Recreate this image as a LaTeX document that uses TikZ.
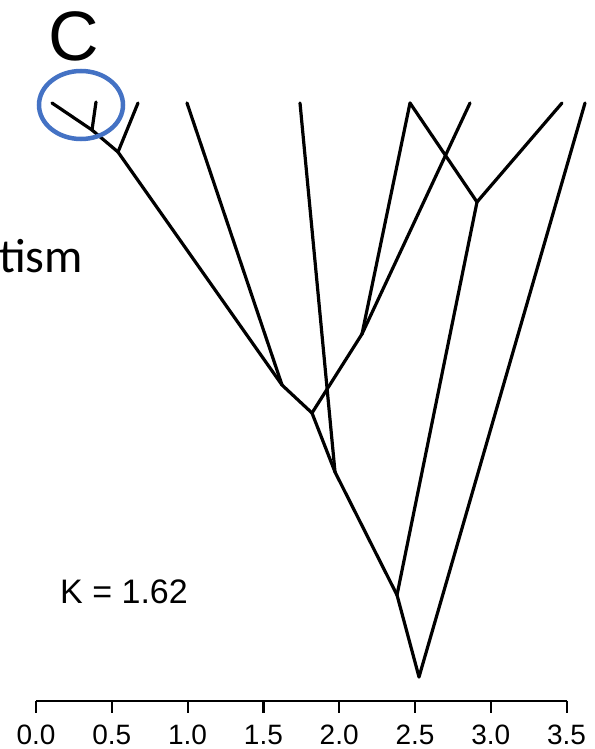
\documentclass[tikz,border=0pt]{standalone}
\usepackage{fontspec}
\setmainfont{Liberation Sans}
\newfontfamily\calibri{Carlito}
\usetikzlibrary{positioning}
\definecolor{ringblue}{RGB}{68,114,196}

\begin{document}
\begin{tikzpicture}[x=1pt, y=-1pt, branch/.style={line width=3.2pt, line cap=round, line join=round},
    axisline/.style={line width=2.2pt}, ticklabel/.style={anchor=base, inner sep=0pt, font=\fontsize{28}{28}\selectfont}]
    \useasboundingbox (0,0) rectangle (594,749);
    % tips
    \coordinate (t1) at (52,103);
    \coordinate (t2) at (96,102);
    \coordinate (t3) at (138,103);
    \coordinate (t4) at (187,103);
    \coordinate (t5) at (300,103);
    \coordinate (t6) at (410,103);
    \coordinate (t7) at (470,103);
    \coordinate (t8) at (562,103);
    \coordinate (t9) at (585,103);
    % inner nodes
    \coordinate (h) at (92,130);
    \coordinate (g) at (118,152);
    \coordinate (a) at (282,385);
    \coordinate (b) at (362,334);
    \coordinate (c) at (312,413);
    \coordinate (d) at (335,472);
    \coordinate (f) at (477,202);
    \coordinate (e) at (397,595);
    \coordinate (root) at (419,677);
    \foreach \u/\v in {t1/h, t2/h, h/g, t3/g, g/a, t4/a, a/c, t6/b, t7/b, b/c, c/d, t5/d,
        t6/f, t8/f, d/e, f/e, e/root, t9/root}
        \draw[branch] (\u) -- (\v);
    \draw[ringblue, line width=4.5pt] (81,105) ellipse [x radius=42pt, y radius=34pt];
    \node[anchor=base west, inner sep=0pt, font=\fontsize{70}{70}\selectfont] (panel) at (48,61) {C};
    \node[anchor=base west, inner sep=0pt, font=\calibri\fontsize{48}{48}\selectfont] (cut) at (-1,272) {tism};
    \node[anchor=base west, inner sep=0pt, font=\fontsize{34}{34}\selectfont] (kval) at (60,603) {K = 1.62};
    % axis
    \coordinate (axl) at (36,700.7);
    \coordinate (axr) at (566.7,700.7);
    \draw[axisline] (axl) -- (axr);
    \foreach \v [count=\i from 0] in {0.0,0.5,1.0,1.5,2.0,2.5,3.0,3.5} {
        \coordinate (tk\i) at (36+75.8*\i,700.7);
        \draw[axisline] (tk\i) -- ++(0,12.5);
        \node[ticklabel] (lab\i) at (36+75.8*\i,744) {\v};
    }
\end{tikzpicture}
\end{document}
